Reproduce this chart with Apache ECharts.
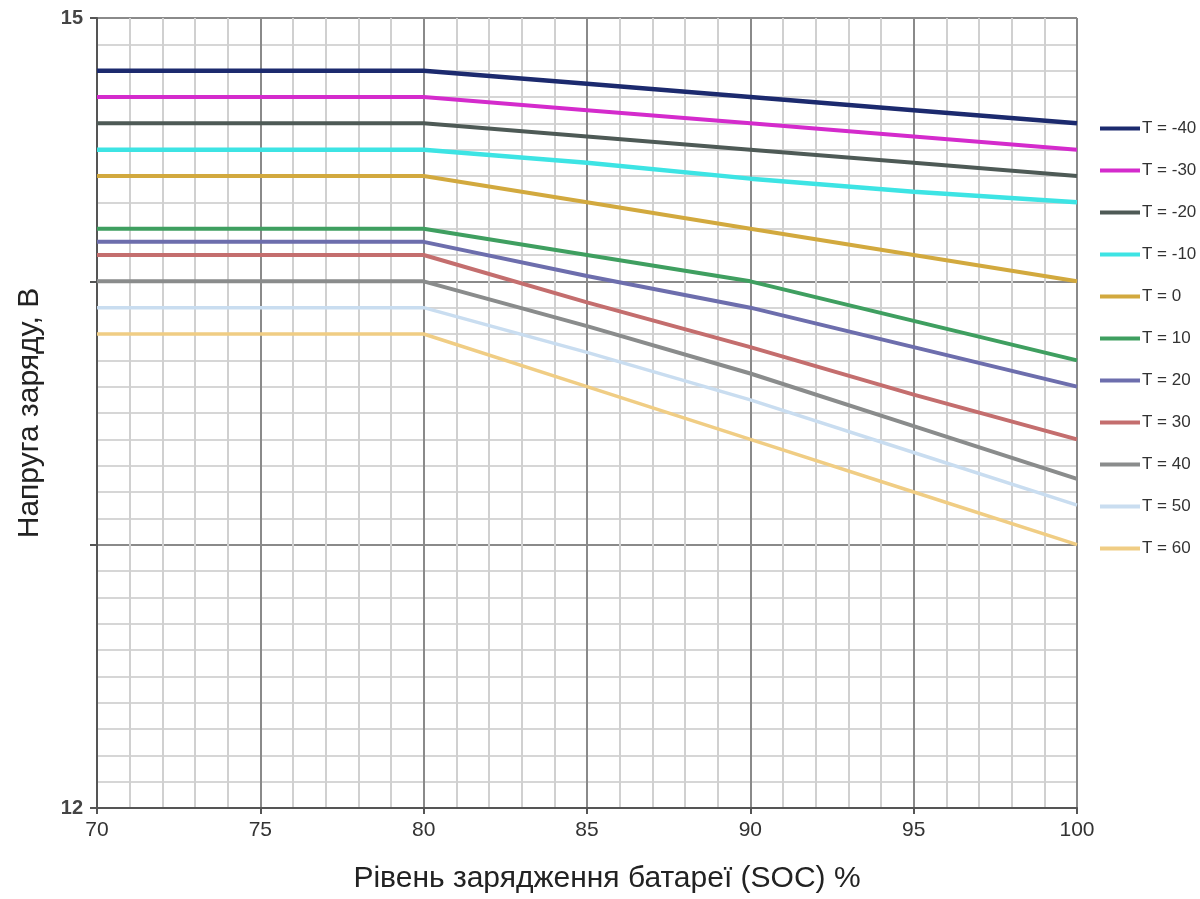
<!DOCTYPE html>
<html>
<head>
<meta charset="utf-8">
<title>Напруга заряду</title>
<script src="https://cdn.jsdelivr.net/npm/echarts@6/dist/echarts.min.js"></script>
<style>
  html, body { margin: 0; padding: 0; background: #fff; }
  #chartDiv { width: 1200px; height: 899px; }
</style>
</head>
<body>
<div id="chartDiv"></div>
<script>
var myChart = echarts.init(document.getElementById('chartDiv'));

// SOC, %
var soc = [70, 75, 80, 85, 90, 95, 100];

// series names (temperature)
var names = ['T = -40', 'T = -30', 'T = -20', 'T = -10', 'T = 0', 'T = 10',
             'T = 20', 'T = 30', 'T = 40', 'T = 50', 'T = 60'];

// charge voltage, V
var tm40 = [14.8, 14.8, 14.8, 14.75, 14.7, 14.65, 14.6];
var tm30 = [14.7, 14.7, 14.7, 14.65, 14.6, 14.55, 14.5];
var tm20 = [14.6, 14.6, 14.6, 14.55, 14.5, 14.45, 14.4];
var tm10 = [14.5, 14.5, 14.5, 14.45, 14.39, 14.34, 14.3];
var t0   = [14.4, 14.4, 14.4, 14.3, 14.2, 14.1, 14.0];
var t10  = [14.2, 14.2, 14.2, 14.1, 14.0, 13.85, 13.7];
var t20  = [14.15, 14.15, 14.15, 14.02, 13.9, 13.75, 13.6];
var t30  = [14.1, 14.1, 14.1, 13.92, 13.75, 13.57, 13.4];
var t40  = [14.0, 14.0, 14.0, 13.83, 13.65, 13.45, 13.25];
var t50  = [13.9, 13.9, 13.9, 13.73, 13.55, 13.35, 13.15];
var t60  = [13.8, 13.8, 13.8, 13.6, 13.4, 13.2, 13.0];

var values = [tm40, tm30, tm20, tm10, t0, t10, t20, t30, t40, t50, t60];

var colors = ['#1c2a6e', '#d42bcc', '#4e5a56', '#3de4e4', '#d2a93e', '#3f9f60',
              '#6d6ead', '#c46e6e', '#8a8c8c', '#c9ddf0', '#f0cd84'];
var widths = [4.5, 4, 4, 4.5, 4, 4, 4, 4, 4, 3.5, 3.5];

var series = [];
for (var i = 0; i < names.length; i++) {
    var pts = [];
    for (var j = 0; j < soc.length; j++) {
        pts.push([soc[j], values[i][j]]);
    }
    series.push({
        name: names[i],
        type: 'line',
        data: pts,
        symbol: 'none',
        showSymbol: false,
        silent: true,
        color: colors[i],
        lineStyle: {color: colors[i], width: widths[i]}
    });
}

var option = {
    animation: false,
    backgroundColor: '#fff',
    grid: {left: 97, right: 123, top: 18, bottom: 89, containLabel: false},
    legend: {
        orient: 'vertical',
        left: 1095,
        top: 115,
        itemWidth: 40,
        itemHeight: 17,
        itemGap: 25,
        icon: 'path://M0,0 L40,0 L40,4 L0,4 Z',
        symbolKeepAspect: true,
        data: names,
        textStyle: {
            fontFamily: 'Liberation Sans',
            fontSize: 17,
            color: '#333',
            lineHeight: 17,
            padding: [0, 0, 0, -3]
        }
    },
    xAxis: {
        type: 'value',
        min: 70,
        max: 100,
        interval: 5,
        name: 'Рівень зарядження батареї (SOC) %',
        nameLocation: 'middle',
        nameGap: 56,
        nameTextStyle: {
            fontFamily: 'Liberation Sans',
            fontSize: 30,
            color: '#222',
            padding: [0, 0, 0, 40]
        },
        axisLine: {lineStyle: {color: '#555', width: 2}},
        axisTick: {show: true, length: 6, lineStyle: {color: '#555', width: 2}},
        axisLabel: {
            fontFamily: 'Liberation Sans',
            fontSize: 21,
            color: '#333',
            margin: 12
        },
        splitLine: {show: true, lineStyle: {color: '#8a8a8a', width: 2}},
        minorTick: {show: false, splitNumber: 5},
        minorSplitLine: {show: true, lineStyle: {color: '#d0d0d0', width: 2}}
    },
    yAxis: {
        type: 'value',
        min: 12,
        max: 15,
        interval: 1,
        name: 'Напруга заряду, В',
        nameLocation: 'middle',
        nameGap: 52,
        nameTextStyle: {
            fontFamily: 'Liberation Sans',
            fontSize: 30,
            color: '#222'
        },
        axisLine: {show: true, lineStyle: {color: '#555', width: 2}},
        axisTick: {show: true, length: 7, lineStyle: {color: '#555', width: 2}},
        axisLabel: {
            fontFamily: 'Liberation Sans',
            fontSize: 20,
            fontWeight: 'bold',
            color: '#444',
            margin: 14,
            formatter: function (v) {
                return (v === 12 || v === 15) ? String(v) : '';
            }
        },
        splitLine: {show: true, lineStyle: {color: '#8a8a8a', width: 2}},
        minorTick: {show: false, splitNumber: 10},
        minorSplitLine: {show: true, lineStyle: {color: '#d6d6d6', width: 2}}
    },
    series: series
};

myChart.setOption(option);
window.onresize = myChart.resize;
</script>
</body>
</html>
